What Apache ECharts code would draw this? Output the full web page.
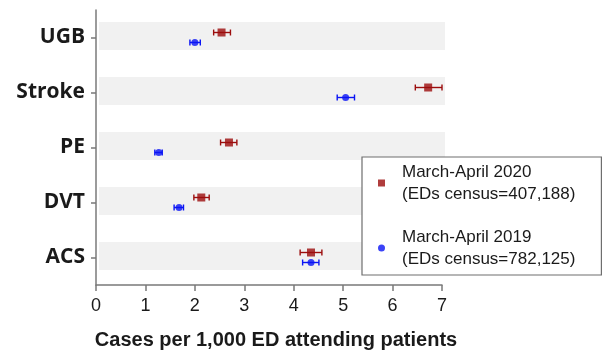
<!DOCTYPE html>
<html>
<head>
<meta charset="utf-8">
<script src="https://cdn.jsdelivr.net/npm/echarts@6/dist/echarts.min.js"></script>
<style>html,body{margin:0;padding:0;background:#fff}#c{width:610px;height:355px}</style>
</head>
<body>
<div id="c"></div>
<script>
const categories = ['UGB', 'Stroke', 'PE', 'DVT', 'ACS'];
const xTicks = [0, 1, 2, 3, 4, 5, 6, 7];
const name2020 = 'March-April 2020\n(EDs census=407,188)';
const name2019 = 'March-April 2019\n(EDs census=782,125)';
const rate2020 = [2.54, 6.72, 2.69, 2.13, 4.35];
const low2020  = [2.38, 6.46, 2.52, 1.98, 4.13];
const high2020 = [2.72, 7.00, 2.85, 2.29, 4.57];
const rate2019 = [2.00, 5.05, 1.27, 1.68, 4.35];
const low2019  = [1.90, 4.88, 1.19, 1.58, 4.18];
const high2019 = [2.11, 5.23, 1.34, 1.77, 4.51];

const red = '#9c0d0d';
const blue = '#0a14f5';
const xMin = xTicks[0], xMax = xTicks[xTicks.length - 1];

function errSeries(lo, hi, color, off) {
  return {
    type: 'custom',
    clip: false,
    silent: true,
    z: 3,
    data: categories.map((c, i) => [i, lo[i], hi[i]]),
    encode: { x: [1, 2], y: 0 },
    renderItem: function (params, api) {
      const cat = api.value(0);
      const p1 = api.coord([api.value(1), cat]);
      const p2 = api.coord([api.value(2), cat]);
      const y = p1[1] + off;
      const cap = 3;
      const st = { stroke: color, lineWidth: 1.4 };
      return {
        type: 'group',
        children: [
          { type: 'line', shape: { x1: p1[0], y1: y, x2: p2[0], y2: y }, style: st },
          { type: 'line', shape: { x1: p1[0], y1: y - cap, x2: p1[0], y2: y + cap }, style: st },
          { type: 'line', shape: { x1: p2[0], y1: y - cap, x2: p2[0], y2: y + cap }, style: st }
        ]
      };
    }
  };
}

const chart = echarts.init(document.getElementById('c'));
chart.setOption({
  animation: false,
  grid: { left: 96, right: 168, top: 10, bottom: 68 },
  xAxis: {
    type: 'value',
    min: xMin, max: xMax, interval: 1,
    splitLine: { show: false },
    axisLine: { show: true, lineStyle: { color: '#7a7a7a', width: 1.5 } },
    axisTick: { show: true, length: 6, lineStyle: { color: '#7a7a7a', width: 1.5 } },
    axisLabel: { color: '#1a1a1a', fontFamily: 'Liberation Sans', fontSize: 18, margin: 12 },
    name: 'Cases per 1,000 ED attending patients',
    nameLocation: 'middle',
    nameGap: 45,
    nameTextStyle: { color: '#1a1a1a', fontFamily: 'Liberation Sans', fontWeight: 'bold', fontSize: 20, padding: [0, 0, 0, 14] }
  },
  yAxis: {
    type: 'category',
    data: categories,
    inverse: true,
    axisLine: { show: true, lineStyle: { color: '#7a7a7a', width: 1.5 } },
    axisTick: { show: true, alignWithLabel: true, length: 5, lineStyle: { color: '#7a7a7a', width: 1.5 } },
    axisLabel: { color: '#1a1a1a', fontFamily: 'Open Sans', fontWeight: 'bold', fontSize: 21, margin: 11 },
    splitLine: { show: false }
  },
  legend: {
    data: [
      { name: name2020, icon: 'rect' },
      { name: name2019, icon: 'circle' }
    ],
    orient: 'vertical',
    left: 362, top: 157,
    itemWidth: 7, itemHeight: 7,
    itemGap: 21,
    padding: [4, 26, 5, 16],
    borderColor: '#6e6e6e', borderWidth: 1.2,
    backgroundColor: '#fff',
    selectedMode: false,
    textStyle: { color: '#1a1a1a', fontFamily: 'Liberation Sans', fontSize: 17, lineHeight: 22, padding: [0, 0, 0, 12] }
  },
  series: [
    {
      type: 'custom',
      silent: true,
      clip: false,
      z: 1,
      data: categories.map((c, i) => [i, xMin, xMax]),
      encode: { x: [1, 2], y: 0 },
      renderItem: function (params, api) {
        const cat = api.value(0);
        const p1 = api.coord([api.value(1), cat]);
        const p2 = api.coord([api.value(2), cat]);
        const h = 28;
        return {
          type: 'rect',
          shape: { x: p1[0] + 3, y: p1[1] - h / 2 - 1.5, width: p2[0] - p1[0], height: h },
          style: { fill: '#f1f1f1' }
        };
      }
    },
    errSeries(low2020, high2020, red, -5),
    errSeries(low2019, high2019, blue, 5),
    {
      name: name2020,
      type: 'scatter',
      symbol: 'rect',
      symbolSize: 8,
      symbolOffset: [0, -5],
      itemStyle: { color: red },
      z: 5,
      data: rate2020.map((v, i) => [v, categories[i]])
    },
    {
      name: name2019,
      type: 'scatter',
      symbol: 'circle',
      symbolSize: 7,
      symbolOffset: [0, 5],
      itemStyle: { color: blue },
      z: 5,
      data: rate2019.map((v, i) => [v, categories[i]])
    }
  ]
});
</script>
</body>
</html>
